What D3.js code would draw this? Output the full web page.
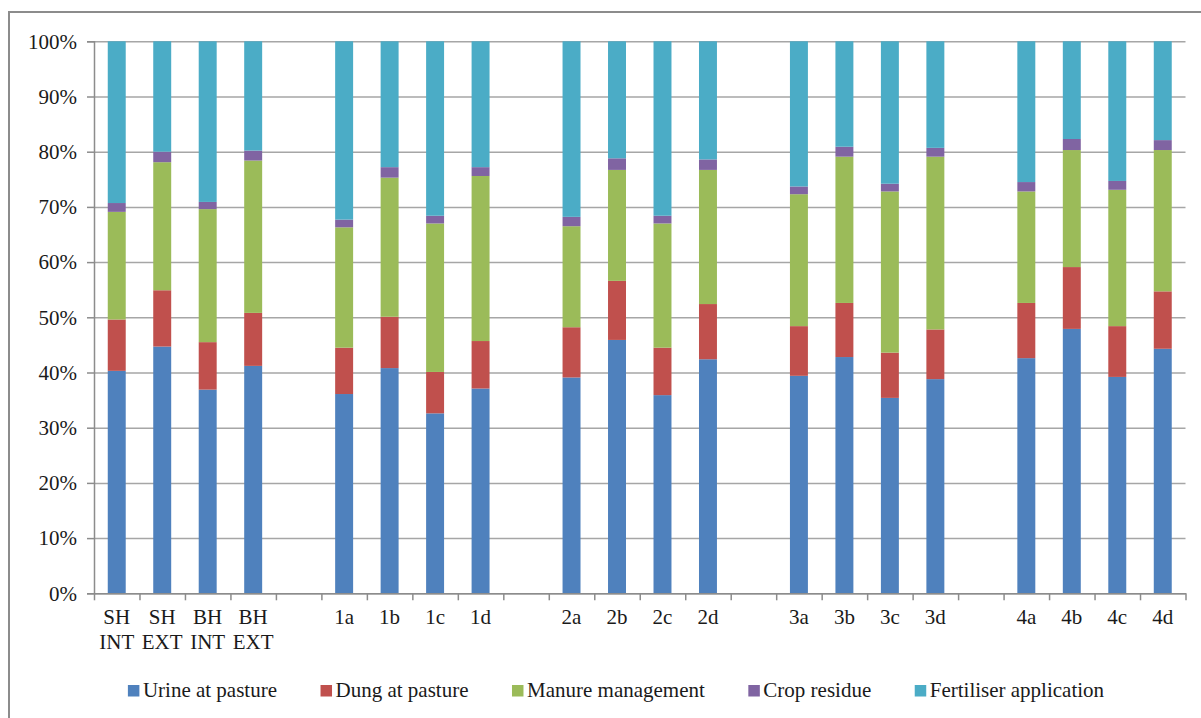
<!DOCTYPE html>
<html>
<head>
<meta charset="utf-8">
<script src="https://cdn.jsdelivr.net/npm/d3@7"></script>
<style>
  html, body { margin: 0; padding: 0; background: #fff; }
  svg { display: block; }
  text { font-family: "Liberation Serif", "Times New Roman", serif; fill: #1a1a1a; }
</style>
</head>
<body>
<svg id="chart" width="1201" height="718"></svg>
<script>
// Farm scenarios, shown in groups with a blank slot between groups
const groups = [
  ["SH INT", "SH EXT", "BH INT", "BH EXT"],
  ["1a", "1b", "1c", "1d"],
  ["2a", "2b", "2c", "2d"],
  ["3a", "3b", "3c", "3d"],
  ["4a", "4b", "4c", "4d"]
];
const categories = groups.flat();

// Share of emissions by source (%)
const seriesNames = ["Urine at pasture", "Dung at pasture", "Manure management", "Crop residue", "Fertiliser application"];
const urine   = [40.3, 44.7, 36.9, 41.2, 36.1, 40.8, 32.6, 37.1, 39.1, 45.9, 35.9, 42.4, 39.4, 42.8, 35.4, 38.8, 42.6, 47.9, 39.2, 44.3];
const dung    = [ 9.3, 10.2,  8.6,  9.6,  8.4,  9.3,  7.5,  8.6,  9.1, 10.7,  8.6, 10.0,  9.0,  9.8,  8.2,  9.0, 10.0, 11.2,  9.2, 10.4];
const manure  = [19.5, 23.2, 24.1, 27.6, 21.8, 25.2, 26.9, 29.9, 18.3, 20.1, 22.5, 24.3, 23.9, 26.5, 29.2, 31.3, 20.2, 21.2, 24.7, 25.6];
const crop    = [ 1.6,  1.9,  1.3,  1.8,  1.4,  1.9,  1.4,  1.6,  1.7,  2.1,  1.4,  1.9,  1.4,  1.8,  1.4,  1.6,  1.7,  2.0,  1.6,  1.8];
const fert    = [29.3, 20.0, 29.1, 19.8, 32.3, 22.8, 31.6, 22.8, 31.8, 21.2, 31.6, 21.4, 26.3, 19.1, 25.8, 19.3, 25.5, 17.7, 25.3, 17.9];
const yTicks  = [0, 0.1, 0.2, 0.3, 0.4, 0.5, 0.6, 0.7, 0.8, 0.9, 1.0];

const colors = ["#4F81BD", "#C0504D", "#9BBB59", "#8064A2", "#4BACC6"];
const seriesValues = [urine, dung, manure, crop, fert];
const FONT = '"Liberation Serif", "Times New Roman", serif';

const svg = d3.select("#chart");

// outer chart frame
svg.append("rect")
  .attr("x", 9).attr("y", 12)
  .attr("width", 1260).attr("height", 760)
  .attr("fill", "none").attr("stroke", "#8c8c8c").attr("stroke-width", 2);

const plot = { left: 94, right: 1185.5, top: 41.3, bottom: 593.3 };

// slot keys: categories plus one spacer after each group except the last
const slots = [];
groups.forEach((g, i) => {
  g.forEach(c => slots.push(c));
  if (i < groups.length - 1) slots.push("__gap" + i);
});

const x = d3.scaleBand()
  .domain(slots)
  .range([plot.left, plot.right])
  .paddingInner(0.605)
  .paddingOuter(0.3025);

const y = d3.scaleLinear().domain([0, 1]).range([plot.bottom, plot.top]);

// rows for stacking
const rows = categories.map((c, i) => {
  const r = { cat: c };
  seriesNames.forEach((s, k) => r[s] = seriesValues[k][i]);
  return r;
});
const stacked = d3.stack().keys(seriesNames).offset(d3.stackOffsetExpand)(rows);

// horizontal gridlines
svg.append("g")
  .attr("transform", `translate(${plot.left},0)`)
  .call(d3.axisLeft(y).tickValues(yTicks).tickSize(-(plot.right - plot.left)).tickFormat(""))
  .call(g => g.select(".domain").remove())
  .call(g => g.selectAll("line").attr("stroke", "#a6a6a6").attr("stroke-width", 1.5));

// bars
svg.append("g").selectAll("g")
  .data(stacked)
  .join("g")
  .attr("fill", (d, i) => colors[i])
  .selectAll("rect")
  .data(d => d)
  .join("rect")
  .attr("x", d => x(d.data.cat))
  .attr("width", x.bandwidth())
  .attr("y", d => y(d[1]))
  .attr("height", d => y(d[0]) - y(d[1]));

// y axis
const yAxis = svg.append("g")
  .attr("transform", `translate(${plot.left},0)`)
  .call(d3.axisLeft(y).tickValues(yTicks).tickFormat(d3.format(".0%")).tickSize(7).tickPadding(10));
yAxis.attr("font-family", FONT);
yAxis.select(".domain").attr("stroke", "#8c8c8c").attr("stroke-width", 1.5);
yAxis.selectAll("line").attr("stroke", "#8c8c8c").attr("stroke-width", 1.5);
yAxis.selectAll("text")
  .style("font-family", FONT)
  .style("font-size", "21px").attr("fill", "#1a1a1a");

// x axis: ticks at slot boundaries
const xb = d3.scaleLinear().domain([0, slots.length]).range([plot.left, plot.right]);
const xAxis = svg.append("g")
  .attr("transform", `translate(0,${plot.bottom})`)
  .call(d3.axisBottom(xb).tickValues(d3.range(slots.length + 1)).tickFormat("").tickSize(7).tickSizeOuter(0));
xAxis.select(".domain").attr("stroke", "#8c8c8c").attr("stroke-width", 1.5);
xAxis.selectAll("line").attr("stroke", "#8c8c8c").attr("stroke-width", 1.5);

// category labels (two-line for the base systems)
const labels = svg.append("g");
categories.forEach(c => {
  const cx = x(c) + x.bandwidth() / 2;
  const lines = c.split(" ");
  const t = labels.append("text")
    .attr("x", cx).attr("y", 624)
    .attr("text-anchor", "middle")
    .style("font-family", FONT)
    .style("font-size", "21px");
  lines.forEach((ln, i) => {
    t.append("tspan").attr("x", cx).attr("dy", i === 0 ? 0 : 25).text(ln);
  });
});

// legend
const legend = svg.append("g");
const items = seriesNames.map((s, i) => {
  const g = legend.append("g");
  g.append("rect").attr("width", 11.5).attr("height", 11.5).attr("y", -12).attr("fill", colors[i]);
  const t = g.append("text").attr("x", 15).attr("y", 0)
    .style("font-family", FONT).style("font-size", "21px").text(s);
  return { g, w: 15 + t.node().getComputedTextLength() };
});
const gap = 43.5;
const total = d3.sum(items, d => d.w) + gap * (items.length - 1);
let lx = 616 - total / 2;
items.forEach(it => {
  it.g.attr("transform", `translate(${lx},697)`);
  lx += it.w + gap;
});
</script>
</body>
</html>
